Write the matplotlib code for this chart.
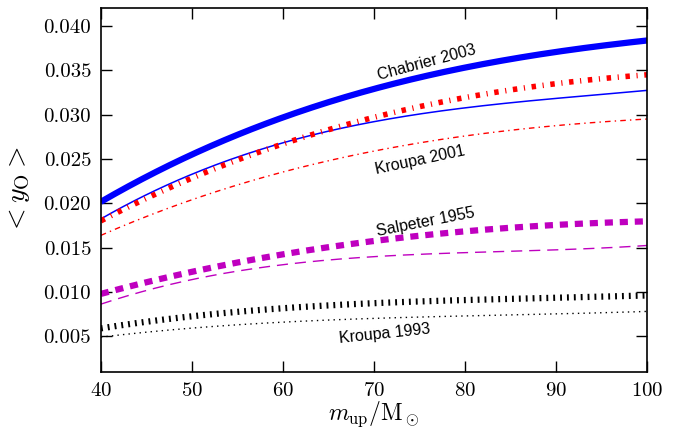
import numpy as np
import matplotlib
matplotlib.use('Agg')
import matplotlib.pyplot as plt
from matplotlib.ticker import MultipleLocator, FormatStrFormatter

plt.rcParams['mathtext.fontset'] = 'cm'
plt.rcParams['font.family'] = 'serif'
plt.rcParams['font.serif'] = ['cmr10', 'DejaVu Serif']
plt.rcParams['axes.formatter.use_mathtext'] = True

# upper mass limit of the IMF
m_up = [40, 50, 60, 70, 80, 90, 100]

# mean oxygen yield, thick and thin curve per IMF
chabrier_thick = [0.0201, 0.0257, 0.0296, 0.0328, 0.0353, 0.0372, 0.0383]
chabrier_thin = [0.0182, 0.0234, 0.0268, 0.0291, 0.0308, 0.0319, 0.0327]
kroupa01_thick = [0.0181, 0.0226, 0.0270, 0.0296, 0.0319, 0.0335, 0.0345]
kroupa01_thin = [0.0164, 0.0204, 0.0235, 0.0260, 0.0275, 0.0288, 0.0295]
salpeter_thick = [0.0098, 0.0123, 0.0142, 0.0158, 0.0169, 0.0175, 0.0180]
salpeter_thin = [0.0086, 0.0115, 0.0131, 0.0139, 0.0144, 0.0149, 0.0152]
kroupa93_thick = [0.0059, 0.0073, 0.0082, 0.0087, 0.0091, 0.0094, 0.0096]
kroupa93_thin = [0.0049, 0.0060, 0.0066, 0.0070, 0.0073, 0.0076, 0.0078]

labels = ['Chabrier 2003', 'Kroupa 2001', 'Salpeter 1955', 'Kroupa 1993']


def smooth(x, y):
    xs = np.linspace(x[0], x[-1], 200)
    c = np.polyfit(x, y, 3)
    return xs, np.polyval(c, xs)


fig = plt.figure(figsize=(6.77, 4.30), dpi=100)
ax = fig.add_axes([0.149, 0.135, 0.807, 0.846])

xs, ys = smooth(m_up, chabrier_thick)
ax.plot(xs, ys, color='blue', lw=4.5, solid_capstyle='butt')
xs, ys = smooth(m_up, chabrier_thin)
ax.plot(xs, ys, color='blue', lw=1.1)

xs, ys = smooth(m_up, kroupa01_thick)
ax.plot(xs, ys, color='red', lw=4.0, dashes=(0.8, 1.2, 0.2, 1.2), dash_capstyle='butt')
xs, ys = smooth(m_up, kroupa01_thin)
ax.plot(xs, ys, color='red', lw=1.0, dashes=(4, 3, 1, 3))

xs, ys = smooth(m_up, salpeter_thick)
ax.plot(xs, ys, color='m', lw=4.5, dashes=(1.3, 1.1), dash_capstyle='butt')
xs, ys = smooth(m_up, salpeter_thin)
ax.plot(xs, ys, color='m', lw=1.0, dashes=(8, 5))

xs, ys = smooth(m_up, kroupa93_thick)
ax.plot(xs, ys, color='black', lw=4.5, dashes=(0.3, 0.8), dash_capstyle='butt')
xs, ys = smooth(m_up, kroupa93_thin)
ax.plot(xs, ys, color='black', lw=1.0, dashes=(1, 3))

# curve labels
tkw = dict(family=['Liberation Sans', 'DejaVu Sans'], fontsize=11.5,
           ha='center', va='center', rotation_mode='anchor')
ax.text(75.8, 0.0359, labels[0], rotation=15, **tkw)
ax.text(75.1, 0.0249, labels[1], rotation=12, **tkw)
ax.text(75.6, 0.0179, labels[2], rotation=11, **tkw)
ax.text(71.2, 0.00533, labels[3], rotation=6, **tkw)

ax.set_xlim(40, 100)
ax.set_ylim(0.001, 0.042)
ax.xaxis.set_major_locator(MultipleLocator(10))
ax.yaxis.set_major_locator(MultipleLocator(0.005))
ax.yaxis.set_major_formatter(FormatStrFormatter('%.3f'))
ax.tick_params(direction='in', length=8, width=1, top=True, right=True,
               labelsize=15, pad=7)
for s in ax.spines.values():
    s.set_linewidth(1.2)

ax.set_xlabel(r'$m_{\rm up}/{\rm M}_\odot$', fontsize=17, labelpad=0)
ax.set_ylabel(r'$<y_{\rm O}>$', fontsize=20, labelpad=8)

fig.savefig('out.png', dpi=100)
